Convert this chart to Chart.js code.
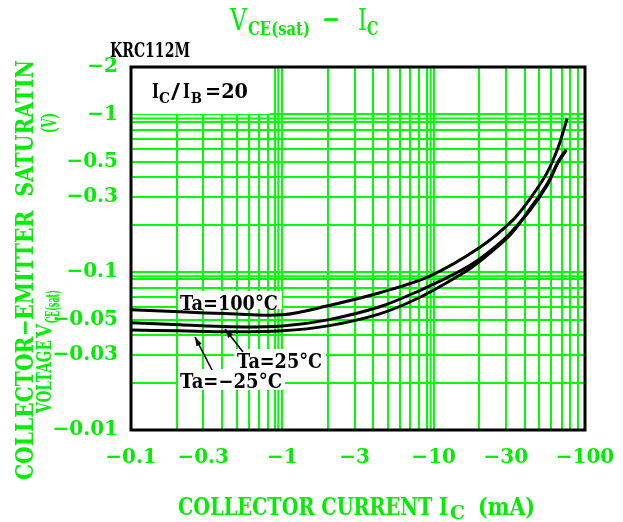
<!DOCTYPE html>
<html>
<head>
<meta charset="utf-8">
<script src="https://cdn.jsdelivr.net/npm/chart.js@4"></script>
<style>
html,body{margin:0;padding:0;background:#fff;}
canvas{display:block;}
</style>
</head>
<body>
<canvas id="c" width="623" height="522"></canvas>
<script>
// ---- data (collector current in mA, Vce(sat) magnitude in V) ----
const icHot   = [0.1, 0.21, 0.45, 1, 2, 4.4, 9.5, 20, 33.5, 43.4, 56.2, 66.4, 76.2];
const vceHot  = [0.0578, 0.0561, 0.0545, 0.0537, 0.0613, 0.0741, 0.095, 0.143, 0.215, 0.293, 0.428, 0.617, 0.943];
const icRoom  = [0.1, 0.21, 0.45, 1, 2, 4.4, 8, 15, 20, 30, 43.4, 56.2, 66.4, 75];
const vceRoom = [0.0478, 0.0464, 0.0451, 0.0457, 0.0499, 0.0604, 0.0763, 0.102, 0.121, 0.166, 0.248, 0.356, 0.496, 0.591];
const icCold  = [0.1, 0.21, 0.45, 1, 2, 4.4, 8, 15, 20, 32, 43.4, 56.2, 66.4, 75];
const vceCold = [0.0431, 0.0425, 0.0419, 0.0425, 0.0457, 0.0545, 0.0689, 0.0964, 0.1166, 0.172, 0.254, 0.362, 0.502, 0.60];
const seriesNames = ['Ta=100°C', 'Ta=25°C', 'Ta=−25°C'];

const xTickValues = [0.1, 0.3, 1, 3, 10, 30, 100];
const xTickLabels = ['−0.1', '−0.3', '−1', '−3', '−10', '−30', '−100'];
const yTickValues = [0.01, 0.03, 0.05, 0.1, 0.3, 0.5, 1, 2];
const yTickLabels = ['−0.01', '−0.03', '−0.05', '−0.1', '−0.3', '−0.5', '−1', '−2'];

// ---- grid values (1..9 per decade) ----
function gridValues(decades, last) {
  const out = [];
  decades.forEach(d => { for (let m = 1; m <= 9; m++) out.push(Number((m * d).toPrecision(3))); });
  out.push(last);
  return out;
}
const xGrid = gridValues([0.1, 1, 10], 100);
const yGrid = gridValues([0.01, 0.1], 1).concat([2]);

const GREEN = '#00ee00';
const GRID = '#00ff00';
const FONT = '"DejaVu Serif", "Liberation Serif", serif';

function near(a, b) { return Math.abs(a - b) / b < 1e-6; }
function labelFor(vals, labels, v) {
  const i = vals.findIndex(t => near(v, t));
  return i >= 0 ? labels[i] : '';
}
function pts(xs, ys) { return xs.map((x, i) => ({ x: x, y: ys[i] })); }

function fitText(ctx, str, x, y, size, width, color, weight, rot) {
  ctx.save();
  ctx.font = (weight || 'bold') + ' ' + size + 'px ' + FONT;
  const w = ctx.measureText(str).width;
  const sx = width ? width / w : 1;
  ctx.translate(x, y);
  if (rot) ctx.rotate(rot);
  ctx.scale(sx, 1);
  ctx.textAlign = 'left';
  ctx.textBaseline = 'alphabetic';
  ctx.fillStyle = color;
  ctx.fillText(str, 0, 0);
  ctx.restore();
}
function arrow(ctx, x1, y1, x2, y2) {
  ctx.save();
  ctx.strokeStyle = '#000'; ctx.fillStyle = '#000'; ctx.lineWidth = 1.6;
  ctx.beginPath(); ctx.moveTo(x1, y1); ctx.lineTo(x2, y2); ctx.stroke();
  const a = Math.atan2(y2 - y1, x2 - x1), L = 9, W = 3;
  ctx.beginPath();
  ctx.moveTo(x2, y2);
  ctx.lineTo(x2 - L * Math.cos(a) + W * Math.sin(a), y2 - L * Math.sin(a) - W * Math.cos(a));
  ctx.lineTo(x2 - L * Math.cos(a) - W * Math.sin(a), y2 - L * Math.sin(a) + W * Math.cos(a));
  ctx.closePath(); ctx.fill();
  ctx.restore();
}

const decor = {
  id: 'decor',
  beforeDraw(chart) {
    const ctx = chart.ctx;
    ctx.save(); ctx.fillStyle = '#fff'; ctx.fillRect(0, 0, chart.width, chart.height); ctx.restore();
  },
  beforeDatasetsDraw(chart) {
    const ctx = chart.ctx, a = chart.chartArea, xs = chart.scales.x, ys = chart.scales.y;
    // doubled decade lines
    ctx.save();
    ctx.strokeStyle = GRID; ctx.lineWidth = 2;
    [[1, -4], [10, -3]].forEach(([v, off]) => {
      const p = xs.getPixelForValue(v) + off;
      ctx.beginPath(); ctx.moveTo(p, a.top); ctx.lineTo(p, a.bottom); ctx.stroke();
    });
    [[0.1, 4], [1, 4]].forEach(([v, off]) => {
      const p = ys.getPixelForValue(v) + off;
      ctx.beginPath(); ctx.moveTo(a.left, p); ctx.lineTo(a.right, p); ctx.stroke();
    });
    // white boxes behind labels
    ctx.fillStyle = '#fff';
    ctx.fillRect(a.left, a.top, 270 - a.left, 47);
    ctx.fillRect(178, 291, 104, 18);
    ctx.fillRect(234, 349, 92, 21);
    ctx.fillRect(178, 369, 107, 21);
    ctx.restore();

    // Ic/Ib = 20
    fitText(ctx, 'I', 152, 98, 20, 7, '#000');
    fitText(ctx, 'C', 159, 103, 15, 11, '#000');
    fitText(ctx, '/', 171, 98, 20, 9, '#000');
    fitText(ctx, 'I', 183, 98, 20, 7, '#000');
    fitText(ctx, 'B', 191, 103, 15, 11, '#000');
    fitText(ctx, '=20', 205, 98, 20, 43, '#000');
    // series labels
    fitText(ctx, seriesNames[0], 180, 310, 20, 98, '#000');
    fitText(ctx, seriesNames[1], 237, 368, 20, 85, '#000');
    fitText(ctx, seriesNames[2], 180, 388, 20, 102, '#000');
    arrow(ctx, 243, 352, 225, 329);
    arrow(ctx, 212, 370, 195, 337);
  },
  afterDraw(chart) {
    const ctx = chart.ctx, a = chart.chartArea;
    ctx.save();
    ctx.strokeStyle = '#000'; ctx.lineWidth = 3;
    ctx.strokeRect(a.left, a.top, a.right - a.left, a.bottom - a.top);
    ctx.restore();
    // title
    fitText(ctx, 'V', 230, 30, 29, 17, GREEN, 'normal');
    fitText(ctx, 'CE(sat)', 248, 35, 19, 62, GREEN, 'bold');
    fitText(ctx, '−', 322, 28, 26, 18, GREEN, 'bold');
    fitText(ctx, 'I', 358, 30, 29, 9, GREEN, 'normal');
    fitText(ctx, 'C', 367, 35, 19, 11, GREEN, 'bold');
    // part number
    fitText(ctx, 'KRC112M', 110, 57, 20, 80, '#000');
    // x title
    fitText(ctx, 'COLLECTOR CURRENT I', 178, 515, 24, 270, GREEN);
    fitText(ctx, 'C', 450, 519, 18, 15, GREEN);
    fitText(ctx, '(mA)', 478, 515, 24, 57, GREEN);
    // y title
    const R = -Math.PI / 2;
    fitText(ctx, 'COLLECTOR−EMITTER  SATURATIN', 33, 480, 24, 420, GREEN, 'bold', R);
    fitText(ctx, 'VOLTAGE', 51, 413, 20, 73, GREEN, 'bold', R);
    fitText(ctx, 'V', 51, 338, 20, 14, GREEN, 'bold', R);
    fitText(ctx, 'CE(sat)', 59, 323, 18, 33, GREEN, 'bold', R);
    fitText(ctx, '(V)', 56, 133, 20, 20, GREEN, 'bold', R);
  }
};

const lineStyle = { borderColor: '#000', borderWidth: 3, pointRadius: 0, fill: false, tension: 0.35 };

new Chart(document.getElementById('c'), {
  type: 'line',
  data: {
    datasets: [
      Object.assign({ label: seriesNames[0], data: pts(icHot, vceHot) }, lineStyle),
      Object.assign({ label: seriesNames[1], data: pts(icRoom, vceRoom) }, lineStyle),
      Object.assign({ label: seriesNames[2], data: pts(icCold, vceCold) }, lineStyle)
    ]
  },
  options: {
    responsive: false,
    animation: false,
    events: [],
    layout: { padding: { top: 67, right: 38, left: 0, bottom: 0 } },
    plugins: { legend: { display: false }, tooltip: { enabled: false }, title: { display: false } },
    scales: {
      x: {
        type: 'logarithmic', min: 0.1, max: 100,
        afterFit: s => { s.height = 92; s.paddingLeft = 0; s.paddingRight = 0; },
        afterBuildTicks: s => { s.ticks = xGrid.map(v => ({ value: v })); },
        border: { display: false },
        grid: {
          drawTicks: false, tickLength: 0, lineWidth: 2,
          color: c => (c.tick && (near(c.tick.value, 0.1) || near(c.tick.value, 100))) ? 'rgba(0,0,0,0)' : GRID
        },
        ticks: {
          autoSkip: false, maxRotation: 0, padding: 16, color: GREEN,
          font: { family: FONT, size: 20, weight: 'bold' },
          callback: v => labelFor(xTickValues, xTickLabels, v)
        }
      },
      y: {
        type: 'logarithmic', min: 0.01, max: 2,
        afterFit: s => { s.width = 131; s.paddingTop = 0; s.paddingBottom = 0; },
        afterBuildTicks: s => { s.ticks = yGrid.map(v => ({ value: v })); },
        border: { display: false },
        grid: {
          drawTicks: false, tickLength: 0, lineWidth: 2,
          color: c => (c.tick && (near(c.tick.value, 0.01) || near(c.tick.value, 2))) ? 'rgba(0,0,0,0)' : GRID
        },
        ticks: {
          autoSkip: false, padding: 13, color: GREEN,
          font: { family: FONT, size: 20, weight: 'bold' },
          callback: v => labelFor(yTickValues, yTickLabels, v)
        }
      }
    }
  },
  plugins: [decor]
});
</script>
</body>
</html>
